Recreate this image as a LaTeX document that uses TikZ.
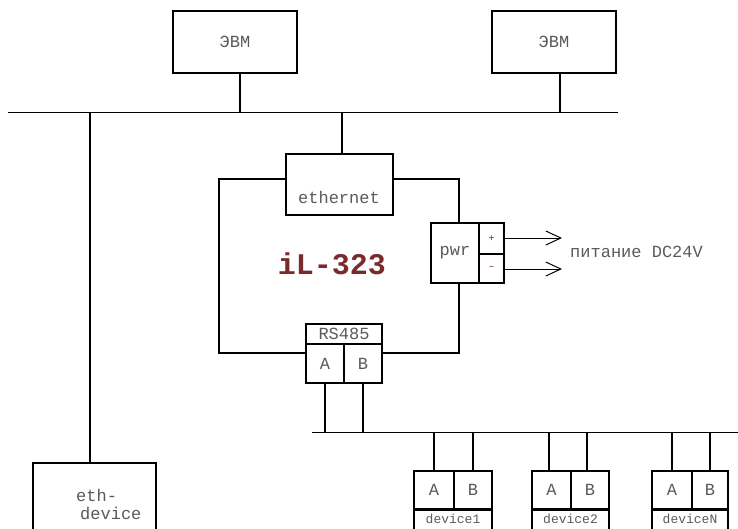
\documentclass[tikz,border=0pt]{standalone}
\usepackage{fontspec}
\setmainfont{Liberation Mono}
\usetikzlibrary{arrows.meta}
\definecolor{txtgray}{HTML}{5A5A5A}
\definecolor{ilred}{HTML}{7A2A2A}
\tikzset{
  box/.style={draw=black, line width=2pt, rectangle, inner sep=0pt, font=\fontsize{17}{18}\selectfont, text=txtgray},
  lbl/.style={inner sep=0pt, font=\fontsize{17}{18}\selectfont, text=txtgray},
  devlbl/.style={inner sep=0pt, font=\fontsize{13}{14}\selectfont, text=txtgray},
  thickline/.style={line width=2pt},
  busline/.style={line width=1pt},
  wire/.style={line width=1.3pt},
  pwrarrow/.style={line width=1pt, -{Straight Barb[length=15pt,width=14pt,line width=1pt]}},
}
\begin{document}
\begin{tikzpicture}[x=1pt,y=-1pt]
\useasboundingbox (0,0) rectangle (738,528);

% computers
\node[box, minimum width=124pt, minimum height=62pt] (evm1) at (235,42) {ЭВМ};
\node[box, minimum width=124pt, minimum height=62pt] (evm2) at (554,42) {ЭВМ};

% top bus
\coordinate (busL) at (8,112);
\coordinate (busR) at (618,112);
\draw[busline] (busL) -- (busR);
\draw[thickline] ([xshift=5pt]evm1.south) -- ([xshift=5pt]evm1.south |- busL);
\draw[thickline] ([xshift=6pt]evm2.south) -- ([xshift=6pt]evm2.south |- busL);

% eth-device
\node[box, minimum width=123pt, minimum height=72pt] (ethdev) at (94.5,499) {};
\node[lbl, anchor=west] (ethdevt1) at (76,495) {eth-};
\node[lbl, anchor=west] (ethdevt2) at (80,513) {device};
\coordinate (ethdevtap) at (90,112);
\draw[wire] (ethdevtap) -- (ethdevtap |- ethdev.north);

% ethernet module
\node[box, minimum width=107pt, minimum height=61pt] (eth) at (339.5,184.5) {};
\node[lbl] (etht) at (339,197) {ethernet};
\coordinate (ethtap) at (342,112);
\draw[wire] (ethtap) -- (ethtap |- eth.north);

% pwr
\node[box, minimum width=48pt, minimum height=60pt] (pwr) at (455,253) {pwr};
\node[box, minimum width=25pt, minimum height=31pt, font=\fontsize{10}{11}\selectfont, text=ilred] (plus) at (491.5,238.5) {+};
\node[box, minimum width=25pt, minimum height=29pt, font=\fontsize{10}{11}\selectfont, text=ilred] (minus) at (491.5,268.5) {\textendash};
\coordinate (arrP) at (562,238);
\coordinate (arrM) at (562,269);
\draw[pwrarrow] (plus.east |- arrP) -- (arrP);
\draw[pwrarrow] (minus.east |- arrM) -- (arrM);
\node[lbl, anchor=west] (pwrtext) at (570,252) {питание DC24V};

% RS485
\node[box, minimum width=76pt, minimum height=20pt] (rs) at (344,334) {RS485};
\node[box, minimum width=38pt, minimum height=39pt] (rsA) at (325,363.5) {A};
\node[box, minimum width=38pt, minimum height=39pt] (rsB) at (363,363.5) {B};

% iL-323 frame
\coordinate (fTL) at (219,179);
\coordinate (fBL) at (219,353);
\coordinate (fTR) at (459,179);
\coordinate (fBR) at (459,353);
\draw[thickline] (eth.west |- fTL) -- (fTL) -- (fBL) -- (rsA.west |- fBL);
\draw[thickline] (rsB.east |- fBR) -- (fBR) -- (fBR |- pwr.south);
\draw[thickline] (fTR |- pwr.north) -- (fTR) -- (eth.east |- fTR);
\node[inner sep=0pt, text=ilred, font=\fontsize{30}{32}\selectfont\bfseries] (il) at (332,264) {iL-323};

% lower bus
\coordinate (bus2L) at (312,432);
\coordinate (bus2R) at (738,432);
\draw[busline] (bus2L) -- (bus2R);
\draw[wire] (rsA.south) -- (rsA.south |- bus2L);
\draw[wire] (rsB.south) -- (rsB.south |- bus2L);

% devices
\node[box, minimum width=40pt, minimum height=38pt] (d1A) at (434,490) {A};
\node[box, minimum width=38pt, minimum height=38pt] (d1B) at (473,490) {B};
\node[box, minimum width=78pt, minimum height=31pt, anchor=north] (d1n) at (453,509) {};
\node[devlbl] (d1t) at (453,519) {device1};

\node[box, minimum width=39pt, minimum height=38pt] (d2A) at (551.5,490) {A};
\node[box, minimum width=38pt, minimum height=38pt] (d2B) at (590,490) {B};
\node[box, minimum width=77pt, minimum height=31pt, anchor=north] (d2n) at (570.5,509) {};
\node[devlbl] (d2t) at (570.5,519) {device2};

\node[box, minimum width=40pt, minimum height=38pt] (dNA) at (672,490) {A};
\node[box, minimum width=36pt, minimum height=38pt] (dNB) at (710,490) {B};
\node[box, minimum width=76pt, minimum height=31pt, anchor=north] (dNn) at (690,509) {};
\node[devlbl] (dNt) at (690,519) {deviceN};

\foreach \n in {d1A,d1B,dNA,dNB}{
  \draw[wire] (\n.north) -- (\n.north |- bus2L);
}
\draw[wire] ([xshift=-2.5pt]d2A.north) -- ([xshift=-2.5pt]d2A.north |- bus2L);
\draw[wire] ([xshift=-3pt]d2B.north) -- ([xshift=-3pt]d2B.north |- bus2L);
\end{tikzpicture}
\end{document}
